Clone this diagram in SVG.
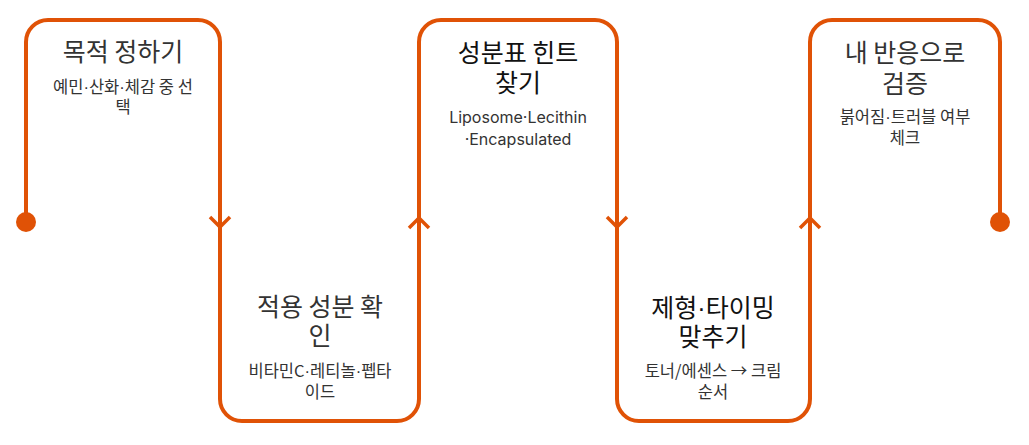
<svg xmlns="http://www.w3.org/2000/svg" width="1029" height="445" viewBox="0 0 1029 445">
<style>
.line{fill:none;stroke:#E05206;stroke-width:4;stroke-linecap:round;stroke-linejoin:round}
.arrow{fill:none;stroke:#E05206;stroke-width:3.5;stroke-linecap:butt;stroke-linejoin:miter}
.dot{fill:#E05206}
.t{font-family:"Noto Sans CJK KR","Noto Sans",sans-serif;font-size:25px;fill:#333;text-anchor:middle}
.tb{fill:#111}
.s{font-family:"Noto Sans CJK KR","Noto Sans",sans-serif;font-size:16.5px;fill:#333;text-anchor:middle}
.lat{font-family:Inter,"Noto Sans",sans-serif;font-size:16px;fill:#333;text-anchor:middle}
.m{font-family:"Liberation Sans",sans-serif}
</style>
<rect width="1029" height="445" fill="#fff"/>
<g id="connectors">
<path class="line" d="M26,222 V42 A22,22 0 0 1 48,20 H198 A22,22 0 0 1 220,42 V399 A22,22 0 0 0 242,421 H397 A22,22 0 0 0 419,399 V42 A22,22 0 0 1 441,20 H595 A22,22 0 0 1 617,42 V399 A22,22 0 0 0 639,421 H788 A22,22 0 0 0 810,399 V42 A22,22 0 0 1 832,20 H978 A22,22 0 0 1 1000,42 V222"/>
<polyline class="arrow" points="210,217 220,227 230,217"/>
<polyline class="arrow" points="409,228 419,218 429,228"/>
<polyline class="arrow" points="607,217 617,227 627,217"/>
<polyline class="arrow" points="800,228 810,218 820,228"/>
<circle class="dot" cx="26" cy="222" r="10"/>
<circle class="dot" cx="1000" cy="222" r="10"/>
</g>
<g id="node1">
<text class="t" x="123" y="61">목적 정하기</text>
<text class="s" x="123" y="93">예민<tspan class="m">·</tspan>산화<tspan class="m">·</tspan>체감 중 선</text>
<text class="s" x="123" y="113">택</text>
</g>
<g id="node2">
<text class="t" x="320" y="316">적용 성분 확</text>
<text class="t" x="320" y="345">인</text>
<text class="s" x="320" y="377">비타민C<tspan class="m">·</tspan>레티놀<tspan class="m">·</tspan>펩타</text>
<text class="s" x="320" y="398">이드</text>
</g>
<g id="node3">
<text class="t tb" x="518" y="62">성분표 힌트</text>
<text class="t tb" x="518" y="92">찾기</text>
<text class="lat" x="518" y="123">Liposome·Lecithin</text>
<text class="lat" x="518" y="145">·Encapsulated</text>
</g>
<g id="node4">
<text class="t tb" x="713" y="317">제형<tspan class="m">·</tspan>타이밍</text>
<text class="t tb" x="713" y="346">맞추기</text>
<text class="s" x="713" y="377">토너/에센스 → 크림</text>
<text class="s" x="713" y="398">순서</text>
</g>
<g id="node5">
<text class="t" x="905" y="62">내 반응으로</text>
<text class="t" x="905" y="93">검증</text>
<text class="s" x="905" y="123">붉어짐<tspan class="m">·</tspan>트러블 여부</text>
<text class="s" x="905" y="144">체크</text>
</g>
</svg>
